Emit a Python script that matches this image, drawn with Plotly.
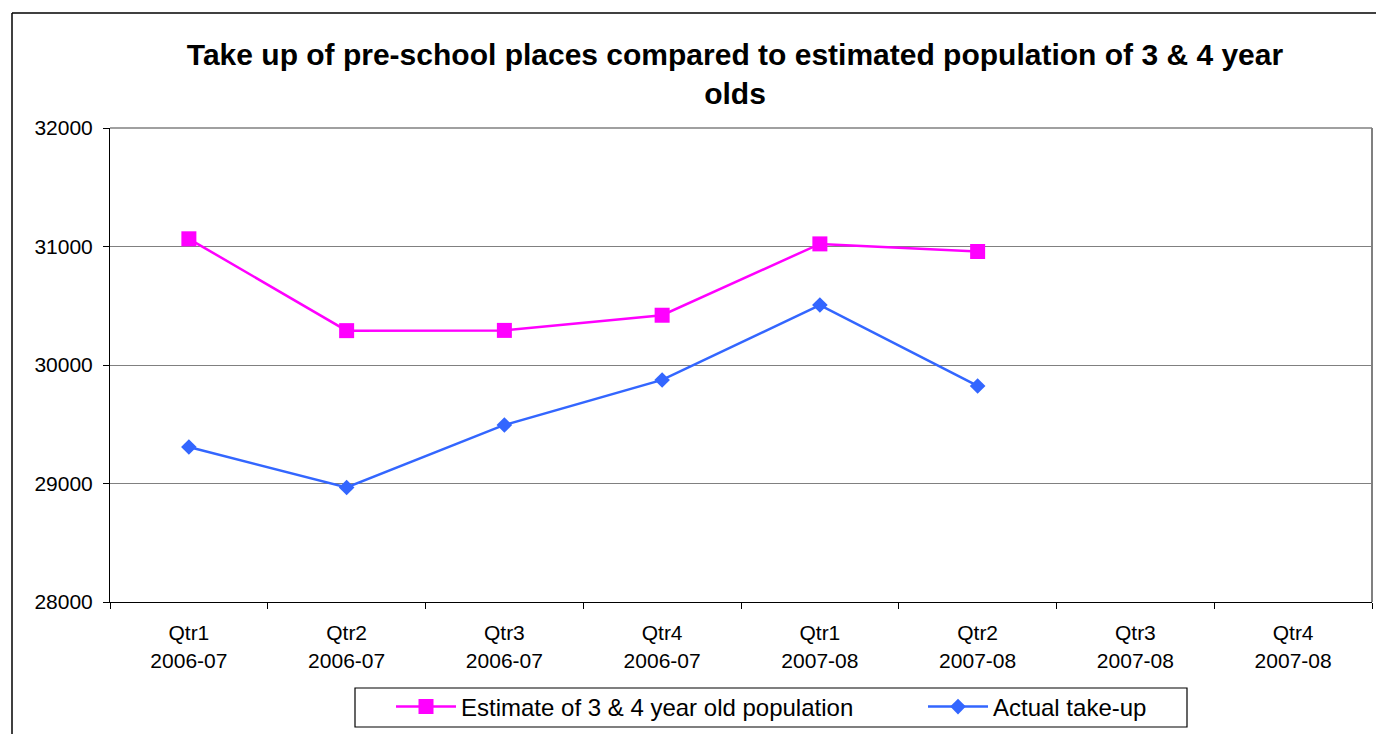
import plotly.graph_objects as go

categories = ["Qtr1<br>2006-07", "Qtr2<br>2006-07", "Qtr3<br>2006-07", "Qtr4<br>2006-07",
              "Qtr1<br>2007-08", "Qtr2<br>2007-08", "Qtr3<br>2007-08", "Qtr4<br>2007-08"]
estimate = [31065, 30290, 30292, 30420, 31022, 30958, None, None]
actual = [29308, 28966, 29494, 29874, 30506, 29823, None, None]
y_ticks = [28000, 29000, 30000, 31000, 32000]

W, H = 1380, 734
L, R, T, B = 110, 8, 128, 132
pw, ph = W - L - R, H - T - B

def px_x(x):
    return (x - L) / pw

def px_y(y):
    return (H - B - y) / ph

fig = go.Figure()
fig.add_trace(go.Scatter(
    x=categories, y=estimate, name="Estimate of 3 & 4 year old population",
    mode="lines+markers", line=dict(color="#FF00FF", width=2.5),
    marker=dict(symbol="square", size=15, color="#FF00FF"), legend="legend"))
fig.add_trace(go.Scatter(
    x=categories, y=actual, name="Actual take-up",
    mode="lines+markers", line=dict(color="#3366FF", width=2.5),
    marker=dict(symbol="diamond", size=12, color="#3366FF"), legend="legend2"))

font = "Arial, Liberation Sans, sans-serif"
leg_common = dict(orientation="h", yanchor="middle", y=px_y(707), xanchor="left",
                  borderwidth=0, bgcolor="rgba(0,0,0,0)",
                  font=dict(size=24, family=font, color="black"), itemwidth=60)
fig.update_layout(
    width=W, height=H,
    margin=dict(l=L, r=R, t=T, b=B, autoexpand=False),
    paper_bgcolor="white", plot_bgcolor="white",
    font=dict(family=font, color="black", size=21),
    title=dict(text="<b>Take up of pre-school places compared to estimated population of 3 & 4 year<br>olds</b>",
               x=px_x(735), xref="paper", xanchor="center",
               y=1 - 65 / H, yref="container", yanchor="middle",
               font=dict(size=30, family=font, color="black")),
    xaxis=dict(type="category", tickson="boundaries", ticks="outside", ticklen=6,
               tickcolor="black", showline=True, linecolor="black", linewidth=1,
               showgrid=False, range=[-0.5, 7.5], tickfont=dict(size=21),
               ticklabelstandoff=12),
    yaxis=dict(range=[28000, 32000], tickvals=y_ticks, tickformat="d",
               ticks="outside", ticklen=6,
               tickcolor="black", showline=True, linecolor="black", linewidth=1,
               showgrid=True, gridcolor="#808080", gridwidth=1, zeroline=False,
               tickfont=dict(size=21), ticklabelstandoff=6),
    legend=dict(x=px_x(391), **leg_common),
    legend2=dict(x=px_x(923), **leg_common),
    showlegend=True,
    shapes=[
        dict(type="line", xref="paper", yref="paper", x0=1, x1=1, y0=0, y1=1,
             line=dict(color="#808080", width=2)),
        dict(type="line", xref="paper", yref="paper", x0=0, x1=1, y0=1, y1=1,
             line=dict(color="#808080", width=1.5)),
        dict(type="line", xref="paper", yref="paper", x0=px_x(12), x1=px_x(1376),
             y0=px_y(13), y1=px_y(13), line=dict(color="black", width=1.5)),
        dict(type="line", xref="paper", yref="paper", x0=px_x(12), x1=px_x(12),
             y0=px_y(13), y1=px_y(760), line=dict(color="black", width=1.5)),
        dict(type="rect", xref="paper", yref="paper", x0=px_x(355), x1=px_x(1187),
             y0=px_y(727), y1=px_y(688), line=dict(color="black", width=1.2),
             layer="below"),
    ],
)

fig.write_html("out.html")
